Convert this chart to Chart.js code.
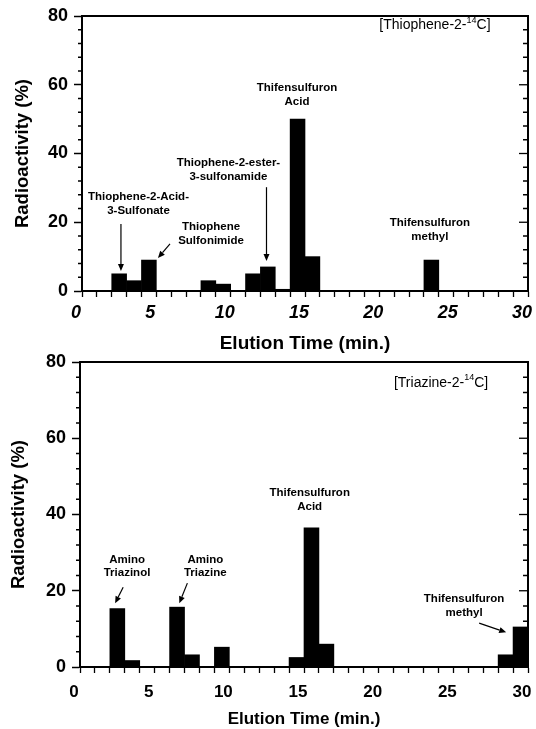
<!DOCTYPE html>
<html lang="en">
<head>
<meta charset="UTF-8">
<title>Radioactivity elution profiles</title>
<script src="https://cdn.jsdelivr.net/npm/chart.js"></script>
<style>
  body { margin: 0; background: #fff; }
  #wrap { position: relative; width: 536px; height: 729px; }
  canvas { position: absolute; left: 0; }
  #topChart { top: 0; }
  #bottomChart { top: 330px; }
</style>
</head>
<body>
<div id="wrap">
  <canvas id="topChart" width="536" height="360"></canvas>
  <canvas id="bottomChart" width="536" height="399"></canvas>
</div>
<script>
// one-minute fractions, plotted at their mid-point (min)
const fractionMid = [0.5, 1.5, 2.5, 3.5, 4.5, 5.5, 6.5, 7.5, 8.5, 9.5,
                     10.5, 11.5, 12.5, 13.5, 14.5, 15.5, 16.5, 17.5, 18.5, 19.5,
                     20.5, 21.5, 22.5, 23.5, 24.5, 25.5, 26.5, 27.5, 28.5, 29.5];

// radioactivity (%) per fraction
const thiopheneValues = [0, 0, 5, 3, 9, 0, 0, 0, 3, 2,
                         0, 5, 7, 0.5, 50, 10, 0, 0, 0, 0,
                         0, 0, 0, 9, 0, 0, 0, 0, 0, 0];
const triazineValues = [0, 0, 15.3, 1.7, 0, 0, 15.7, 3.2, 0, 5.2,
                        0, 0, 0, 0, 2.5, 36.5, 6, 0, 0, 0,
                        0, 0, 0, 0, 0, 0, 0, 0, 3.2, 10.5];

const xTickLabels = [0, 5, 10, 15, 20, 25, 30];
const yTickLabels = [0, 20, 40, 60, 80];

// peak labels: text lines, x (min), y (%) of first line
const thiopheneNotes = [
  { lines: ['Thiophene-2-Acid-', '3-Sulfonate'], x: 3.8, y: 27.3 },
  { lines: ['Thiophene', 'Sulfonimide'], x: 8.68, y: 18.6 },
  { lines: ['Thiophene-2-ester-', '3-sulfonamide'], x: 9.85, y: 37.2 },
  { lines: ['Thifensulfuron', 'Acid'], x: 14.46, y: 59.0 },
  { lines: ['Thifensulfuron', 'methyl'], x: 23.4, y: 19.8 }
];
const thiopheneArrows = [
  { from: [2.62, 19.5], to: [2.62, 5.8] },
  { from: [5.92, 13.7], to: [5.11, 9.6] },
  { from: [12.41, 30.2], to: [12.41, 8.7] }
];
const triazineNotes = [
  { lines: ['Amino', 'Triazinol'], x: 3.15, y: 28.2 },
  { lines: ['Amino', 'Triazine'], x: 8.39, y: 28.2 },
  { lines: ['Thifensulfuron', 'Acid'], x: 15.38, y: 45.6 },
  { lines: ['Thifensulfuron', 'methyl'], x: 25.72, y: 17.8 }
];
const triazineArrows = [
  { from: [2.89, 20.9], to: [2.35, 16.7] },
  { from: [7.19, 22.0], to: [6.65, 16.7] },
  { from: [26.73, 11.5], to: [28.54, 9.1] }
];

Chart.defaults.font.family = '"Liberation Sans", Arial, sans-serif';
Chart.defaults.color = '#000';

function drawArrow(ctx, x1, y1, x2, y2) {
  const ang = Math.atan2(y2 - y1, x2 - x1);
  const hl = 7, hw = 3;
  ctx.beginPath();
  ctx.moveTo(x1, y1);
  ctx.lineTo(x2 - Math.cos(ang) * hl, y2 - Math.sin(ang) * hl);
  ctx.stroke();
  ctx.beginPath();
  ctx.moveTo(x2, y2);
  ctx.lineTo(x2 - Math.cos(ang) * hl - Math.sin(ang) * hw, y2 - Math.sin(ang) * hl + Math.cos(ang) * hw);
  ctx.lineTo(x2 - Math.cos(ang) * hl + Math.sin(ang) * hw, y2 - Math.sin(ang) * hl - Math.cos(ang) * hw);
  ctx.closePath();
  ctx.fill();
}

const extrasPlugin = {
  id: 'extras',
  afterDraw(chart, args, opts) {
    const { ctx, chartArea: a, scales: { x, y } } = chart;
    ctx.save();
    ctx.strokeStyle = '#000';
    ctx.fillStyle = '#000';

    // top and right frame
    ctx.lineWidth = 2;
    ctx.beginPath();
    ctx.moveTo(a.left, a.top);
    ctx.lineTo(a.right, a.top);
    ctx.lineTo(a.right, a.bottom);
    ctx.stroke();

    // inward ticks on the right, short minor ticks on the left
    ctx.lineWidth = 1.3;
    y.ticks.forEach(t => {
      const py = y.getPixelForValue(t.value);
      const major = yTickLabels.includes(t.value);
      ctx.beginPath();
      ctx.moveTo(a.right, py);
      ctx.lineTo(a.right - (major ? 9 : 5), py);
      if (!major) {
        ctx.moveTo(a.left - 4, py);
        ctx.lineTo(a.left, py);
      }
      ctx.stroke();
    });

    // peak labels
    ctx.font = 'bold 11.5px "Liberation Sans", Arial, sans-serif';
    ctx.textAlign = 'center';
    ctx.textBaseline = 'middle';
    opts.notes.forEach(n => {
      const px = x.getPixelForValue(n.x);
      const py = y.getPixelForValue(n.y);
      n.lines.forEach((line, i) => ctx.fillText(line, px, py + i * 13.5));
    });

    ctx.lineWidth = 1.2;
    opts.arrows.forEach(ar => {
      drawArrow(ctx,
        x.getPixelForValue(ar.from[0]), y.getPixelForValue(ar.from[1]),
        x.getPixelForValue(ar.to[0]), y.getPixelForValue(ar.to[1]));
    });

    // isotope tag, e.g. [Thiophene-2-14C]
    const tag = opts.tag;
    const big = '14px "Liberation Sans", Arial, sans-serif';
    const small = '9px "Liberation Sans", Arial, sans-serif';
    ctx.textAlign = 'left';
    ctx.font = big;
    const w1 = ctx.measureText(tag.before).width;
    const w3 = ctx.measureText(tag.after).width;
    ctx.font = small;
    const w2 = ctx.measureText(tag.sup).width;
    let tx = x.getPixelForValue(tag.x) - (w1 + w2 + w3) / 2;
    const ty = y.getPixelForValue(tag.y);
    ctx.font = big;
    ctx.fillText(tag.before, tx, ty);
    tx += w1;
    ctx.font = small;
    ctx.fillText(tag.sup, tx, ty - 5);
    tx += w2;
    ctx.font = big;
    ctx.fillText(tag.after, tx, ty);

    ctx.restore();
  }
};

function makeChart(id, values, cfg) {
  const ctx = document.getElementById(id).getContext('2d');
  return new Chart(ctx, {
    type: 'bar',
    data: {
      datasets: [{
        data: fractionMid.map((t, i) => ({ x: t, y: values[i] })),
        backgroundColor: '#000',
        borderWidth: 0,
        barPercentage: 1,
        categoryPercentage: 1
      }]
    },
    options: {
      responsive: false,
      animation: false,
      layout: { padding: { top: cfg.top, right: 8, left: 0, bottom: 0 } },
      plugins: {
        legend: { display: false },
        tooltip: { enabled: false },
        extras: { notes: cfg.notes, arrows: cfg.arrows, tag: cfg.tag }
      },
      scales: {
        x: {
          type: 'linear',
          min: 0,
          max: 30,
          offset: false,
          border: { display: true, color: '#000', width: 2 },
          grid: { offset: false, drawOnChartArea: false, drawTicks: true, tickLength: 6, tickWidth: 1.3, tickColor: '#000' },
          ticks: {
            stepSize: 1,
            autoSkip: false,
            maxRotation: 0,
            padding: cfg.xPad,
            labelOffset: -6,
            font: { size: cfg.xSize, weight: 'bold', style: cfg.xStyle },
            callback: v => xTickLabels.includes(v) ? v : ''
          },
          title: {
            display: true,
            text: 'Elution Time (min.)',
            font: { size: cfg.titleSize, weight: 'bold', lineHeight: 1 },
            padding: { top: 0, bottom: cfg.titlePad }
          },
          afterFit: s => { s.height = cfg.xHeight; s.paddingLeft = 0; s.paddingRight = 0; }
        },
        y: {
          min: 0,
          max: 80,
          border: { display: true, color: '#000', width: 2 },
          grid: {
            drawOnChartArea: false, drawTicks: true, tickLength: 8, tickWidth: 1.5,
            tickColor: c => (c.tick && yTickLabels.includes(c.tick.value)) ? '#000' : 'rgba(0,0,0,0)'
          },
          ticks: {
            stepSize: 4,
            autoSkip: false,
            padding: 6,
            font: { size: 18, weight: 'bold' },
            callback: v => yTickLabels.includes(v) ? v : ''
          },
          title: {
            display: true,
            text: 'Radioactivity (%)',
            font: { size: 18.5, weight: 'bold', lineHeight: 1 },
            padding: { top: cfg.yTitlePad, bottom: 0 }
          },
          afterFit: s => { s.width = cfg.yWidth; s.paddingTop = 0; s.paddingBottom = 0; }
        }
      }
    },
    plugins: [extrasPlugin]
  });
}

makeChart('topChart', thiopheneValues, {
  top: 16, xHeight: 69, yWidth: 82, xPad: 5, xSize: 18, xStyle: 'italic',
  titleSize: 19, titlePad: 7, yTitlePad: 14,
  notes: thiopheneNotes, arrows: thiopheneArrows,
  tag: { before: '[Thiophene-2-', sup: '14', after: 'C]', x: 23.74, y: 77.3 }
});

makeChart('bottomChart', triazineValues, {
  top: 32, xHeight: 62, yWidth: 80, xPad: 9, xSize: 17, xStyle: 'normal',
  titleSize: 17, titlePad: 1, yTitlePad: 10,
  notes: triazineNotes, arrows: triazineArrows,
  tag: { before: '[Triazine-2-', sup: '14', after: 'C]', x: 24.18, y: 74.5 }
});
</script>
</body>
</html>
